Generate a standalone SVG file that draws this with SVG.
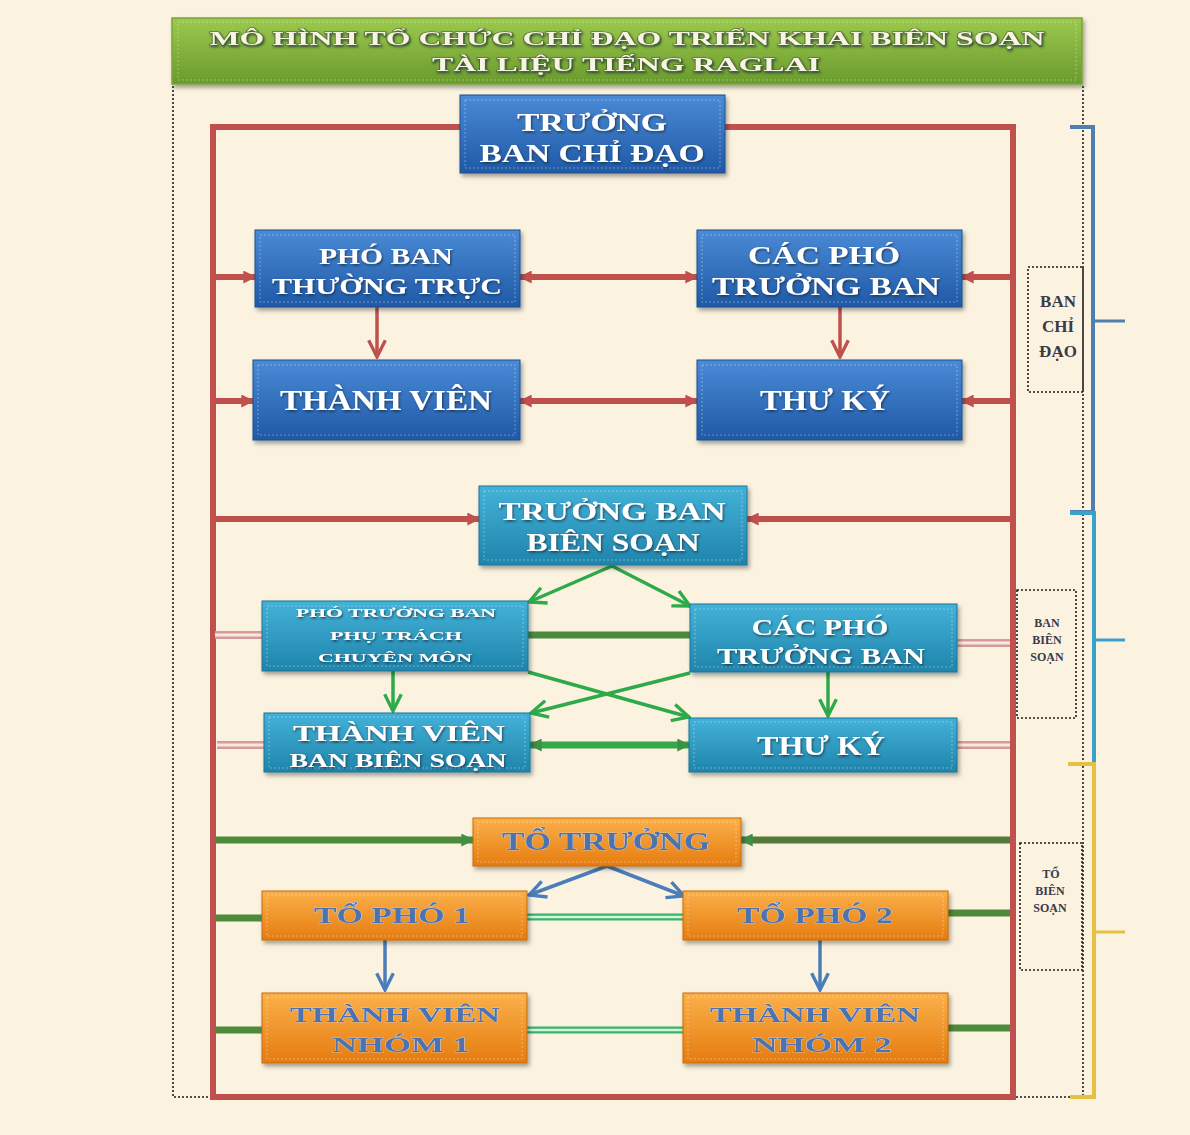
<svg xmlns="http://www.w3.org/2000/svg" width="1190" height="1135" viewBox="0 0 1190 1135">
<defs>
<linearGradient id="gGreen" x1="0" y1="0" x2="0" y2="1"><stop offset="0" stop-color="#9cc94e"/><stop offset="1" stop-color="#6a9a2c"/></linearGradient>
<linearGradient id="gBlue" x1="0" y1="0" x2="0" y2="1"><stop offset="0" stop-color="#4a8ad6"/><stop offset="1" stop-color="#1f59a6"/></linearGradient>
<linearGradient id="gTeal" x1="0" y1="0" x2="0" y2="1"><stop offset="0" stop-color="#44b2d8"/><stop offset="1" stop-color="#1f84ab"/></linearGradient>
<linearGradient id="gOrange" x1="0" y1="0" x2="0" y2="1"><stop offset="0" stop-color="#fbb04a"/><stop offset="1" stop-color="#e57c10"/></linearGradient>
<filter id="sh" x="-10%" y="-10%" width="130%" height="140%"><feDropShadow dx="2" dy="3" stdDeviation="2" flood-color="#000" flood-opacity="0.35"/></filter>
<filter id="tsh" x="-5%" y="-20%" width="110%" height="150%"><feDropShadow dx="1" dy="1.5" stdDeviation="0.8" flood-color="#1a2a3a" flood-opacity="0.8"/></filter>
<marker id="redTri" viewBox="0 0 10 10" refX="9" refY="5" markerWidth="13" markerHeight="13" markerUnits="userSpaceOnUse" orient="auto-start-reverse"><path d="M0,0 L10,5 L0,10 z" fill="#c0504d"/></marker>
<marker id="redV" viewBox="0 0 12 12" refX="11" refY="6" markerWidth="20" markerHeight="20" markerUnits="userSpaceOnUse" orient="auto"><path d="M1,1 L11,6 L1,11" fill="none" stroke="#c0504d" stroke-width="2"/></marker>
<marker id="greenTri" viewBox="0 0 10 10" refX="9" refY="5" markerWidth="13" markerHeight="13" markerUnits="userSpaceOnUse" orient="auto-start-reverse"><path d="M0,0 L10,5 L0,10 z" fill="#3f8f45"/></marker>
<marker id="greenV" viewBox="0 0 12 12" refX="11" refY="6" markerWidth="20" markerHeight="20" markerUnits="userSpaceOnUse" orient="auto"><path d="M1,1 L11,6 L1,11" fill="none" stroke="#2eaa4a" stroke-width="2"/></marker>
<marker id="blueV" viewBox="0 0 12 12" refX="11" refY="6" markerWidth="20" markerHeight="20" markerUnits="userSpaceOnUse" orient="auto"><path d="M1,1 L11,6 L1,11" fill="none" stroke="#4a7ebb" stroke-width="2"/></marker>
<style>
.bg{fill:#fbf3e0}
.box{filter:url(#sh)}
.blue{fill:url(#gBlue);stroke:#1d4f8e;stroke-width:1}
.teal{fill:url(#gTeal);stroke:#1b7599;stroke-width:1}
.orange{fill:url(#gOrange);stroke:#c86a0a;stroke-width:1}
.inner{fill:none;stroke:#ffffff;stroke-opacity:0.35;stroke-width:1;stroke-dasharray:2 2}
.t{font-family:"Liberation Serif","DejaVu Serif",serif;font-weight:bold;text-anchor:middle}
.tw{fill:#ffffff;filter:url(#tsh)}
.to{fill:#4e72ad;stroke:#cfe0f5;stroke-width:0.6;paint-order:stroke}
.title{fill:#f7f4e4;stroke:#4d6a22;stroke-width:1;paint-order:stroke;filter:url(#tsh)}
.lab{fill:#3a3a48;font-family:"Liberation Serif","DejaVu Serif",serif;font-weight:bold;text-anchor:middle}
.dot{fill:none;stroke:#1e1e1e;stroke-width:1.6;stroke-dasharray:2 2}
.red{fill:none;stroke:#c0504d;stroke-width:6}
.redh{fill:none;stroke:#c0504d;stroke-width:6}
.redv{fill:none;stroke:#c0504d;stroke-width:3.5}
.gv{fill:none;stroke:#2eaa4a;stroke-width:3.5}
.gdark{fill:none;stroke:#4f8a3c;stroke-width:7}
.bv{fill:none;stroke:#4a7ebb;stroke-width:3.5}
.pinkO{fill:none;stroke:#d79a98;stroke-width:8}
.pinkI{fill:none;stroke:#f8e8e2;stroke-width:3}
.lgO{fill:none;stroke:#38b36a;stroke-width:7}
.lgI{fill:none;stroke:#d2f3dc;stroke-width:2.5}
</style>
</defs>
<rect class="bg" x="0" y="0" width="1190" height="1135"/>

<g id="title">
<rect x="172" y="18" width="910" height="66" fill="url(#gGreen)" stroke="#7aa43a" stroke-width="1.5" filter="url(#sh)"/>
<rect x="178" y="22" width="898" height="58" class="inner"/>
<text class="t title" x="627" y="45" font-size="19" textLength="835" lengthAdjust="spacingAndGlyphs">MÔ HÌNH TỔ CHỨC CHỈ ĐẠO TRIỂN KHAI BIÊN SOẠN</text>
<text class="t title" x="626" y="71" font-size="19" textLength="388" lengthAdjust="spacingAndGlyphs">TÀI LIỆU TIẾNG RAGLAI</text>
</g>

<g id="frame-outline">
<path class="dot" d="M173,86 V1097 H210"/>
<path class="dot" d="M1083,86 V1097 H1013"/>
</g>

<g id="connectors">
<path class="red" d="M460,127 H213 V1097 H1013 V127 H725"/>
<line class="redh" x1="213" y1="277" x2="255" y2="277" marker-end="url(#redTri)"/>
<line class="redh" x1="1013" y1="277" x2="962" y2="277" marker-end="url(#redTri)"/>
<line class="redh" x1="520" y1="277" x2="697" y2="277" marker-start="url(#redTri)" marker-end="url(#redTri)"/>
<line class="redh" x1="213" y1="401" x2="253" y2="401" marker-end="url(#redTri)"/>
<line class="redh" x1="1013" y1="401" x2="962" y2="401" marker-end="url(#redTri)"/>
<line class="redh" x1="520" y1="401" x2="697" y2="401" marker-start="url(#redTri)" marker-end="url(#redTri)"/>
<line class="redv" x1="377" y1="307" x2="377" y2="357" marker-end="url(#redV)"/>
<line class="redv" x1="840" y1="307" x2="840" y2="357" marker-end="url(#redV)"/>
<line class="redh" x1="213" y1="519" x2="479" y2="519" marker-end="url(#redTri)"/>
<line class="redh" x1="1013" y1="519" x2="747" y2="519" marker-end="url(#redTri)"/>
<line class="pinkO" x1="215" y1="635" x2="262" y2="635"/><line class="pinkI" x1="215" y1="635" x2="262" y2="635"/>
<line class="pinkO" x1="217" y1="745" x2="264" y2="745"/><line class="pinkI" x1="217" y1="745" x2="264" y2="745"/>
<line class="pinkO" x1="957" y1="643" x2="1010" y2="643"/><line class="pinkI" x1="957" y1="643" x2="1010" y2="643"/>
<line class="pinkO" x1="957" y1="745" x2="1010" y2="745"/><line class="pinkI" x1="957" y1="745" x2="1010" y2="745"/>
<line class="gdark" x1="528" y1="635" x2="690" y2="635" style="stroke:#4a8a3e"/>
<line class="gdark" x1="530" y1="745" x2="689" y2="745" style="stroke:#34a84a" marker-start="url(#greenTri)" marker-end="url(#greenTri)"/>
<line class="gv" x1="612" y1="566" x2="529" y2="602" marker-end="url(#greenV)"/>
<line class="gv" x1="612" y1="566" x2="690" y2="606" marker-end="url(#greenV)"/>
<line class="gv" x1="528" y1="672" x2="689" y2="717" marker-end="url(#greenV)"/>
<line class="gv" x1="690" y1="673" x2="531" y2="713" marker-end="url(#greenV)"/>
<line class="gv" x1="393" y1="671" x2="393" y2="711" marker-end="url(#greenV)"/>
<line class="gv" x1="828" y1="672" x2="828" y2="716" marker-end="url(#greenV)"/>
<line class="gdark" x1="216" y1="840" x2="473" y2="840" marker-end="url(#greenTri)"/>
<line class="gdark" x1="1010" y1="840" x2="741" y2="840" style="stroke:#537a3a" marker-end="url(#greenTri)"/>
<line class="gdark" x1="216" y1="918" x2="262" y2="918"/>
<line class="gdark" x1="948" y1="913" x2="1010" y2="913"/>
<line class="gdark" x1="216" y1="1030" x2="262" y2="1030"/>
<line class="gdark" x1="948" y1="1028" x2="1010" y2="1028"/>
<line class="lgO" x1="527" y1="917" x2="683" y2="917"/><line class="lgI" x1="527" y1="917" x2="683" y2="917"/>
<line class="lgO" x1="527" y1="1030" x2="683" y2="1030"/><line class="lgI" x1="527" y1="1030" x2="683" y2="1030"/>
<line class="bv" x1="607" y1="866" x2="529" y2="895" marker-end="url(#blueV)"/>
<line class="bv" x1="607" y1="866" x2="684" y2="896" marker-end="url(#blueV)"/>
<line class="bv" x1="385" y1="940" x2="385" y2="990" marker-end="url(#blueV)"/>
<line class="bv" x1="820" y1="940" x2="820" y2="990" marker-end="url(#blueV)"/>
</g>

<g id="n-truong-ban-chi-dao" class="box"><rect class="blue" x="460" y="95" width="265" height="78"/><rect class="inner" x="465" y="100" width="255" height="68"/>
<text class="t tw" x="592" y="131" font-size="25" textLength="150" lengthAdjust="spacingAndGlyphs">TRƯỞNG</text>
<text class="t tw" x="592" y="162" font-size="25" textLength="225" lengthAdjust="spacingAndGlyphs">BAN CHỈ ĐẠO</text></g>

<g id="n-pho-ban-thuong-truc" class="box"><rect class="blue" x="255" y="230" width="265" height="77"/><rect class="inner" x="260" y="235" width="255" height="67"/>
<text class="t tw" x="386" y="264" font-size="24" textLength="134" lengthAdjust="spacingAndGlyphs">PHÓ BAN</text>
<text class="t tw" x="387" y="294" font-size="24" textLength="230" lengthAdjust="spacingAndGlyphs">THƯỜNG TRỰC</text></g>

<g id="n-cac-pho-truong-ban" class="box"><rect class="blue" x="697" y="230" width="265" height="77"/><rect class="inner" x="702" y="235" width="255" height="67"/>
<text class="t tw" x="824" y="264" font-size="25" textLength="152" lengthAdjust="spacingAndGlyphs">CÁC PHÓ</text>
<text class="t tw" x="826" y="295" font-size="25" textLength="228" lengthAdjust="spacingAndGlyphs">TRƯỞNG BAN</text></g>

<g id="n-thanh-vien" class="box"><rect class="blue" x="253" y="360" width="267" height="80"/><rect class="inner" x="258" y="365" width="257" height="70"/>
<text class="t tw" x="386" y="410" font-size="29" textLength="212" lengthAdjust="spacingAndGlyphs">THÀNH VIÊN</text></g>

<g id="n-thu-ky" class="box"><rect class="blue" x="697" y="360" width="265" height="80"/><rect class="inner" x="702" y="365" width="255" height="70"/>
<text class="t tw" x="825" y="410" font-size="29" textLength="130" lengthAdjust="spacingAndGlyphs">THƯ KÝ</text></g>

<g id="n-truong-ban-bien-soan" class="box"><rect class="teal" x="479" y="486" width="268" height="79"/><rect class="inner" x="484" y="491" width="258" height="69"/>
<text class="t tw" x="612" y="520" font-size="25" textLength="227" lengthAdjust="spacingAndGlyphs">TRƯỞNG BAN</text>
<text class="t tw" x="613" y="551" font-size="25" textLength="173" lengthAdjust="spacingAndGlyphs">BIÊN SOẠN</text></g>

<g id="n-pho-truong-ban-chuyen-mon" class="box"><rect class="teal" x="262" y="601" width="266" height="70"/><rect class="inner" x="267" y="606" width="256" height="60"/>
<text class="t tw" x="396" y="617" font-size="13" textLength="200" lengthAdjust="spacingAndGlyphs">PHÓ TRƯỞNG BAN</text>
<text class="t tw" x="396" y="640" font-size="13" textLength="132" lengthAdjust="spacingAndGlyphs">PHỤ TRÁCH</text>
<text class="t tw" x="395" y="662" font-size="13" textLength="154" lengthAdjust="spacingAndGlyphs">CHUYÊN MÔN</text></g>

<g id="n-cac-pho-truong-ban-bs" class="box"><rect class="teal" x="690" y="604" width="267" height="68"/><rect class="inner" x="695" y="609" width="257" height="58"/>
<text class="t tw" x="820" y="635" font-size="23" textLength="137" lengthAdjust="spacingAndGlyphs">CÁC PHÓ</text>
<text class="t tw" x="821" y="664" font-size="23" textLength="208" lengthAdjust="spacingAndGlyphs">TRƯỞNG BAN</text></g>

<g id="n-thanh-vien-ban-bien-soan" class="box"><rect class="teal" x="264" y="713" width="266" height="59"/><rect class="inner" x="269" y="717" width="256" height="51"/>
<text class="t tw" x="399" y="741" font-size="24" textLength="212" lengthAdjust="spacingAndGlyphs">THÀNH VIÊN</text>
<text class="t tw" x="398" y="767" font-size="19" textLength="217" lengthAdjust="spacingAndGlyphs">BAN BIÊN SOẠN</text></g>

<g id="n-thu-ky-bs" class="box"><rect class="teal" x="689" y="718" width="268" height="54"/><rect class="inner" x="694" y="722" width="258" height="46"/>
<text class="t tw" x="821" y="755" font-size="27" textLength="128" lengthAdjust="spacingAndGlyphs">THƯ KÝ</text></g>

<g id="n-to-truong" class="box"><rect class="orange" x="473" y="818" width="268" height="48"/><rect class="inner" x="478" y="822" width="258" height="40"/>
<text class="t to" x="606" y="850" font-size="25" textLength="208" lengthAdjust="spacingAndGlyphs">TỔ TRƯỞNG</text></g>

<g id="n-to-pho-1" class="box"><rect class="orange" x="262" y="891" width="265" height="49"/><rect class="inner" x="267" y="895" width="255" height="41"/>
<text class="t to" x="392" y="923" font-size="24" textLength="156" lengthAdjust="spacingAndGlyphs">TỔ PHÓ 1</text></g>

<g id="n-to-pho-2" class="box"><rect class="orange" x="683" y="891" width="265" height="49"/><rect class="inner" x="688" y="895" width="255" height="41"/>
<text class="t to" x="815" y="923" font-size="24" textLength="156" lengthAdjust="spacingAndGlyphs">TỔ PHÓ 2</text></g>

<g id="n-thanh-vien-nhom-1" class="box"><rect class="orange" x="262" y="993" width="265" height="70"/><rect class="inner" x="267" y="997" width="255" height="62"/>
<text class="t to" x="395" y="1022" font-size="22" textLength="210" lengthAdjust="spacingAndGlyphs">THÀNH VIÊN</text>
<text class="t to" x="401" y="1052" font-size="22" textLength="138" lengthAdjust="spacingAndGlyphs">NHÓM 1</text></g>

<g id="n-thanh-vien-nhom-2" class="box"><rect class="orange" x="683" y="993" width="265" height="70"/><rect class="inner" x="688" y="997" width="255" height="62"/>
<text class="t to" x="815" y="1022" font-size="22" textLength="210" lengthAdjust="spacingAndGlyphs">THÀNH VIÊN</text>
<text class="t to" x="822" y="1052" font-size="22" textLength="140" lengthAdjust="spacingAndGlyphs">NHÓM 2</text></g>

<g id="brackets">
<path d="M1070,127 H1093 V512 H1070" fill="none" stroke="#4f7fae" stroke-width="4"/>
<line x1="1093" y1="321" x2="1125" y2="321" stroke="#4f7fae" stroke-width="3"/>
<path d="M1070,513 H1094 V762" fill="none" stroke="#3aa1c9" stroke-width="4"/>
<line x1="1094" y1="640" x2="1125" y2="640" stroke="#3aa1c9" stroke-width="3"/>
<path d="M1068,764 H1094 V1097 H1070" fill="none" stroke="#e6c040" stroke-width="4"/>
<line x1="1094" y1="932" x2="1125" y2="932" stroke="#e6c040" stroke-width="3"/>
</g>

<g id="label-ban-chi-dao">
<rect class="dot" x="1028" y="267" width="55" height="125"/>
<text class="lab" x="1058" y="307" font-size="17">BAN</text>
<text class="lab" x="1058" y="332" font-size="17">CHỈ</text>
<text class="lab" x="1058" y="357" font-size="17">ĐẠO</text>
</g>
<g id="label-ban-bien-soan">
<rect class="dot" x="1017" y="590" width="59" height="128"/>
<text class="lab" x="1047" y="627" font-size="12">BAN</text>
<text class="lab" x="1047" y="644" font-size="12">BIÊN</text>
<text class="lab" x="1047" y="661" font-size="12">SOẠN</text>
</g>
<g id="label-to-bien-soan">
<rect class="dot" x="1020" y="843" width="62" height="127"/>
<text class="lab" x="1051" y="878" font-size="12">TỔ</text>
<text class="lab" x="1050" y="895" font-size="12">BIÊN</text>
<text class="lab" x="1050" y="912" font-size="12">SOẠN</text>
</g>
</svg>
